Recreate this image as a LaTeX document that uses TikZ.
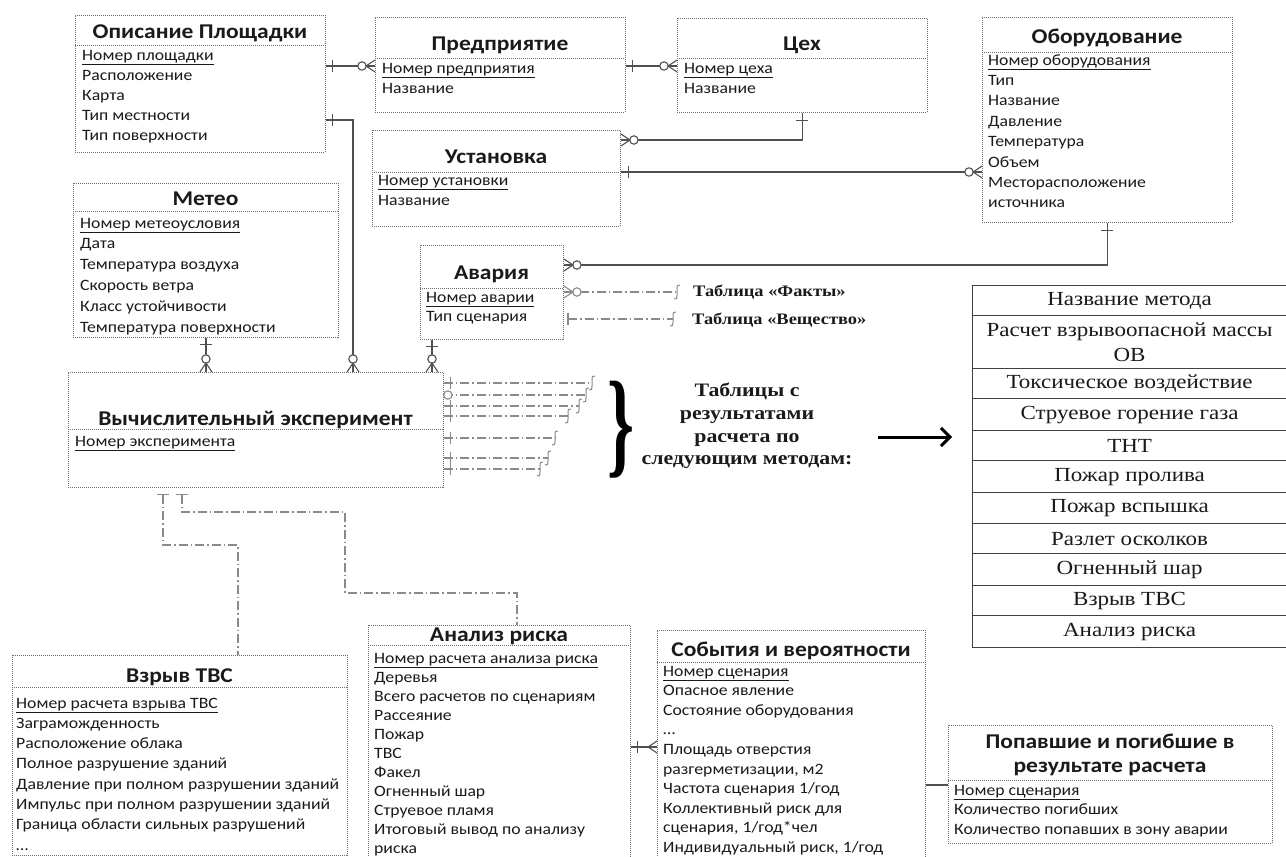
\documentclass[tikz,border=0pt]{standalone}
\usepackage{fontspec}
\usepackage{graphicx}
\setmainfont{Carlito}[FakeStretch=1.12]
\newfontfamily\bodyf{Carlito}[FakeStretch=1.12]
\newfontfamily\serif{Liberation Serif}[FakeStretch=1.15]
\usetikzlibrary{arrows.meta,calc}
\definecolor{txt}{HTML}{1A1A1A}
\definecolor{frm}{HTML}{6E6E6E}
\definecolor{cn}{HTML}{505050}
\definecolor{dd}{HTML}{8A8A8A}
\tikzset{
 frame/.style={draw=frm, line width=0.9pt, dash pattern=on 1pt off 1pt, inner sep=0pt},
 ttl/.style={font=\fontsize{21}{24}\selectfont\bfseries, text=txt, inner sep=0pt},
 rowtxt/.style={font=\bodyf\fontsize{15.8}{18}\selectfont, text=txt, inner sep=0pt, anchor=base west},
 conn/.style={draw=cn, line width=1.3pt},
 ddash/.style={draw=dd, line width=1.1pt, dash pattern=on 9pt off 3pt on 1.5pt off 3pt},
 cell/.style={draw=black!75, line width=1.2pt, minimum width=314pt, inner sep=0pt, align=center, text=txt, font=\serif\fontsize{20}{25}\selectfont, anchor=north west},
 note/.style={font=\serif\bfseries\fontsize{16}{18}\selectfont, text=txt, inner sep=0pt, anchor=base west}
}
\newcommand\ent[8]{%
 \node[frame, anchor=north west, minimum width={#4-#2}, minimum height={#5-#3}] (#1) at (#2,#3) {};
 \draw[frame] (#2,#6) -- (#4,#6);
 \node[ttl, anchor=base] (#1-t) at ({(#2+#4)/2},#8) {#7};}
\newcommand\rows[5]{%
 \foreach \rw [count=\i from 0] in {#5}{%
  \node[rowtxt] (#1-r\i) at (#2,{#3+\i*#4}) {\ifnum\i=0 \underline{\rw}\else\rw\fi};}}
\newcommand\crowat[3][cn]{\begin{scope}[shift={#2},rotate=#3]\draw[draw=#1,line width=1.1pt] (0,-6) -- (9,0) -- (0,6);\end{scope}}
\newcommand\circat[4][cn]{\begin{scope}[shift={#2},rotate=#3]\draw[draw=#1,line width=1.1pt,fill=white] (#4,0) circle (4.2);\end{scope}}
\newcommand\barat[4][cn]{\begin{scope}[shift={#2},rotate=#3]\draw[draw=#1,line width=1.1pt] (#4,-6) -- (#4,6);\end{scope}}
\newcommand\hookat[1]{\begin{scope}[shift={#1}]\draw[draw=dd,line width=1pt] (3,-7) .. controls (0.5,-8) and (0,-6) .. (0,-3) -- (0,3) .. controls (0,6) and (-0.5,8) .. (-3,7);\end{scope}}
\begin{document}
\begin{tikzpicture}[x=1pt,y=-1pt]
\useasboundingbox[fill=white] (0,0) rectangle (1286,857);

% entities
\ent{plo}{75}{15}{325}{152}{45}{Описание Площадки}{38}
\rows{plo}{82}{60}{20.1}{Номер площадки,Расположение,Карта,Тип местности,Тип поверхности}
\ent{pre}{375}{17}{625}{112}{58}{Предприятие}{50}
\rows{pre}{382}{73}{20}{Номер предприятия,Название}
\ent{tseh}{677}{18}{927}{112}{58}{Цех}{50}
\rows{tseh}{684}{73}{20}{Номер цеха,Название}
\ent{obo}{982}{17}{1232}{222}{52}{Оборудование}{43}
\rows{obo}{988}{65}{20.4}{Номер оборудования,Тип,Название,Давление,Температура,Объем,Месторасположение,источника}
\ent{ust}{372}{130}{620}{226}{172}{Установка}{163}
\rows{ust}{378}{185}{20}{Номер установки,Название}
\ent{met}{73}{183}{338}{337}{211}{Метео}{205}
\rows{met}{80}{228}{20.8}{Номер метеоусловия,Дата,Температура воздуха,Скорость ветра,Класс устойчивости,Температура поверхности}
\ent{ava}{420}{245}{563}{339}{288}{Авария}{279}
\rows{ava}{426}{302}{19}{Номер аварии,Тип сценария}
\ent{exp}{68}{372}{443}{487}{429}{Вычислительный эксперимент}{425}
\rows{exp}{75}{446}{20}{Номер эксперимента}
\ent{vzr}{12}{655}{347}{855}{687}{Взрыв ТВС}{682}
\rows{vzr}{16}{708}{20.3}{Номер расчета взрыва ТВС,Заграможденность,Расположение облака,Полное разрушение зданий,Давление при полном разрушении зданий,Импульс при полном разрушении зданий,Граница области сильных разрушений,…}
\ent{ana}{368}{625}{630}{875}{645}{Анализ риска}{641}
\rows{ana}{374}{663}{19.0}{Номер расчета анализа риска,Деревья,Всего расчетов по сценариям,Рассеяние,Пожар,ТВС,Факел,Огненный шар,Струевое пламя,Итоговый вывод по анализу,риска}
\ent{sob}{657}{630}{925}{875}{662}{События и вероятности}{656}
\rows{sob}{663}{676}{19.6}{Номер сценария,Опасное явление,Состояние оборудования,…,Площадь отверстия,{разгерметизации, м2},Частота сценария 1/год,Коллективный риск для,{сценария, 1/год*чел},{Индивидуальный риск, 1/год}}
\node[frame, anchor=north west, minimum width=324pt, minimum height=118pt] (pop) at (948,725) {};
\draw[frame] (948,780) -- (1272,780);
\node[ttl, anchor=base] (pop-t) at (1110,748) {Попавшие и погибшие в};
\node[ttl, anchor=base] (pop-t2) at (1110,772) {результате расчета};
\rows{pop}{954}{795}{19.6}{Номер сценария,Количество погибших,Количество попавших в зону аварии}

% solid connectors
\draw[conn] (plo.east |- 0,66) -- (pre.west |- 0,66);
\barat{(plo.east |- 0,66)}{0}{7}\circat{(pre.west |- 0,66)}{180}{13}\crowat{(pre.west |- 0,66)}{180}
\draw[conn] (pre.east |- 0,66) -- (tseh.west |- 0,66);
\barat{(pre.east |- 0,66)}{0}{7}\circat{(tseh.west |- 0,66)}{180}{13}\crowat{(tseh.west |- 0,66)}{180}
\draw[conn] (tseh.south) |- (ust.east |- 0,140);
\barat{(tseh.south)}{-90}{8}\circat{(ust.east |- 0,140)}{0}{13}\crowat{(ust.east |- 0,140)}{0}
\draw[conn] (ust.east |- 0,172) -- (obo.west |- 0,172);
\barat{(ust.east |- 0,172)}{0}{8}\circat{(obo.west |- 0,172)}{180}{13}\crowat{(obo.west |- 0,172)}{180}
\draw[conn] (obo.south) |- (ava.east |- 0,265);
\barat{(obo.south)}{-90}{8}\circat{(ava.east |- 0,265)}{0}{13}\crowat{(ava.east |- 0,265)}{0}
\draw[conn] (plo.east |- 0,120) -| (exp.north -| 353,0);
\barat{(plo.east |- 0,120)}{0}{7}\circat{(exp.north -| 353,0)}{90}{13}\crowat{(exp.north -| 353,0)}{90}
\draw[conn] (met.south) -- (exp.north -| met.south);
\barat{(met.south)}{-90}{7}\circat{(exp.north -| met.south)}{90}{13}\crowat{(exp.north -| met.south)}{90}
\draw[conn] (ava.south -| 432,0) -- (exp.north -| 432,0);
\barat{(ava.south -| 432,0)}{-90}{7}\circat{(exp.north -| 432,0)}{90}{13}\crowat{(exp.north -| 432,0)}{90}
\draw[conn] (ana.east |- 0,747) -- (sob.west |- 0,747);
\barat{(ana.east |- 0,747)}{0}{7}\crowat{(sob.west |- 0,747)}{180}
\draw[conn] (sob.east |- 0,785) -- (pop.west |- 0,785);

% dash-dot links from Авария
\coordinate (f1) at (677,292);
\coordinate (v0) at (568,319);
\coordinate (v1) at (673,319);
\draw[ddash] (ava.east |- 0,292) -- (f1);
\circat[dd]{(ava.east |- 0,292)}{0}{13}\crowat[dd]{(ava.east |- 0,292)}{0}
\hookat{(f1)}
\draw[ddash] (v0) -- (v1);
\barat[dd]{(v0)}{0}{0}
\hookat{(v1)}
\node[note] (fakty) at (693,296) {Таблица «Факты»};
\node[note] (vesch) at (692,324) {Таблица «Вещество»};

% dash-dot links from experiment
\foreach \yy/\xe [count=\k] in {383/592,395/586,406/579,416/568,438/555,458/548,469/540}{
 \coordinate (e\k) at (\xe,\yy);
 \draw[ddash] (exp.east |- 0,\yy) -- (e\k);
 \hookat{(e\k)}
}
\circat[dd]{(exp.east |- 0,395)}{0}{4}
\foreach \yy in {383,406,416,438,458,469}{\barat[dd]{(exp.east |- 0,\yy)}{0}{7}}

% brace, text, arrow
\node[inner sep=0pt] (brace) at (621,430) {\resizebox*{27pt}{97pt}{\serif\bfseries\}}};
\node[font=\serif\bfseries\fontsize{19}{22.7}\selectfont, text=txt, align=center, inner sep=0pt] (tbls) at (747,426) {Таблицы с\\результатами\\расчета по\\следующим методам:};
\coordinate (a1) at (878,437);
\coordinate (a2) at (952,437);
\draw[line width=3pt, -{Straight Barb[length=9pt,width=18pt]}] (a1) -- (a2);

% methods table
\foreach \ya/\yb/\nm [count=\i] in {285/315/{Название метода},315/368/{Расчет взрывоопасной массы\\ОВ},368/398/{Токсическое воздействие},398/430/{Струевое горение газа},430/460/{ТНТ},460/492/{Пожар пролива},492/523/{Пожар вспышка},523/553/{Разлет осколков},553/585/{Огненный шар},585/615/{Взрыв ТВС},615/647/{Анализ риска}}{
 \node[cell, minimum height={\yb-\ya}] (m\i) at (972,\ya) {\nm};
}

% dash-dot links downwards
\coordinate (b0) at ($(exp.south -| 163,0)+(0,7)$);
\coordinate (b1) at (163,545);
\coordinate (b2) at (238,545);
\draw[ddash] (b0) -- (b1) -- (b2) -- (vzr.north -| b2);
\draw[dd, line width=1pt] (157,494) -- (169,494);
\coordinate (c0) at ($(exp.south -| 182,0)+(0,7)$);
\coordinate (c1) at (182,512);
\coordinate (c2) at (345,512);
\coordinate (c3) at (345,593);
\coordinate (c4) at (517,593);
\draw[ddash] (c0) -- (c1) -- (c2) -- (c3) -- (c4) -- (ana.north -| c4);
\draw[dd, line width=1pt] (176,494) -- (188,494);
\end{tikzpicture}
\end{document}
